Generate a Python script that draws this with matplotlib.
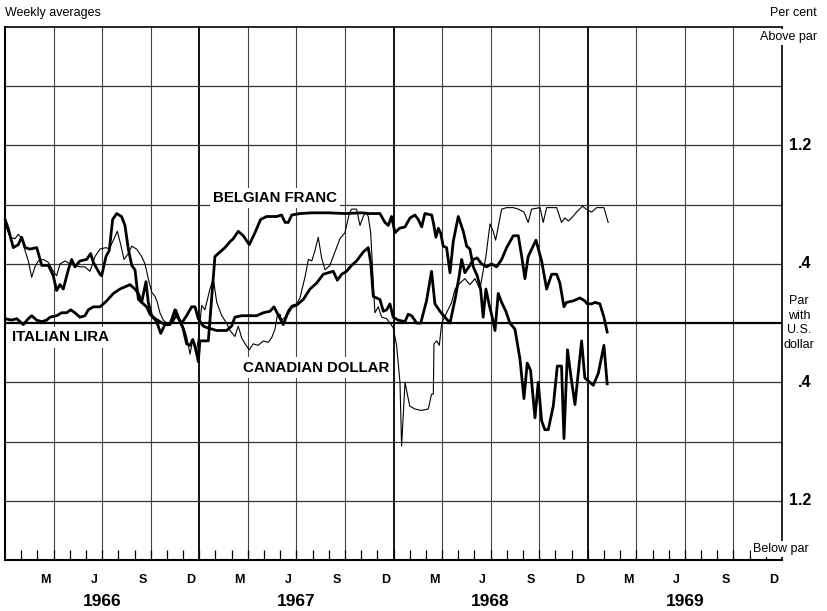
import numpy as np
import matplotlib.pyplot as plt

plt.rcParams['font.family'] = ['Liberation Sans', 'DejaVu Sans']

# x = months since 1 Jan 1966, y = per cent above (+) / below (-) par with U.S. dollar
bf_month = [0, 0.2, 0.51, 0.82, 1.03, 1.24, 1.54, 1.96, 2.27, 2.68, 2.98, 3.19, 3.4, 3.6, 3.91, 4.12,
            4.32, 4.63, 5.05, 5.29, 5.46, 5.87, 5.97, 6.24, 6.44, 6.65, 6.9, 7.2, 7.41, 7.62, 7.83,
            8.03, 8.24, 8.44, 8.71, 8.85, 9.06, 9.37, 9.62, 9.88, 10.19, 10.5, 10.81, 11.01, 11.22,
            11.43, 11.6, 11.8, 11.94, 12.04, 12.35, 12.56, 12.97, 13.28, 13.59, 13.9, 14.1, 14.41,
            14.72, 15.09, 15.44, 15.79, 16.16, 16.78, 17.09, 17.3, 17.5, 17.71, 18.22, 19.0, 20.0,
            21.0, 22.0, 22.5, 23.16, 23.47, 23.68, 23.88, 24.09, 24.36, 24.71, 25.02, 25.32, 25.53,
            25.74, 25.94, 26.36, 26.46, 26.62, 26.77, 26.91, 27.07, 27.28, 27.49, 27.69, 28.0, 28.31,
            28.52, 28.72, 28.93, 29.17, 29.38, 29.54, 29.71, 29.92, 30.12, 30.27, 30.47, 30.68, 30.94,
            31.19, 31.5, 31.81, 32.06, 32.26, 32.47, 32.74, 32.94, 33.15, 33.35, 33.56, 33.87, 34.12,
            34.38, 34.53, 34.75, 34.96, 35.21, 35.62, 35.82, 36.03, 36.34, 36.65, 37.0, 37.2]
bf_value = [0.70, 0.64, 0.51, 0.53, 0.58, 0.51, 0.50, 0.51, 0.39, 0.39, 0.32, 0.22, 0.26, 0.23, 0.36, 0.43,
            0.38, 0.42, 0.43, 0.47, 0.41, 0.33, 0.32, 0.45, 0.49, 0.70, 0.74, 0.72, 0.66, 0.50, 0.39,
            0.36, 0.16, 0.14, 0.28, 0.14, 0.05, 0.01, -0.07, -0.01, -0.01, 0.09, 0.01, -0.04, -0.14,
            -0.15, -0.11, -0.18, -0.26, -0.12, -0.12, -0.12, 0.45, 0.48, 0.51, 0.55, 0.57, 0.62,
            0.59, 0.53, 0.61, 0.70, 0.72, 0.72, 0.73, 0.68, 0.68, 0.73, 0.74, 0.745, 0.745,
            0.74, 0.745, 0.74, 0.74, 0.68, 0.66, 0.72, 0.61, 0.64, 0.65, 0.71, 0.73, 0.70,
            0.65, 0.74, 0.73, 0.68, 0.58, 0.64, 0.61, 0.52, 0.51, 0.34, 0.55, 0.72, 0.62,
            0.52, 0.50, 0.38, 0.32, 0.23, 0.04, 0.23, 0.12, 0.03, -0.05, 0.20, 0.14, 0.08,
            0.00, -0.04, -0.24, -0.51, -0.27, -0.32, -0.64, -0.40, -0.66, -0.72, -0.72, -0.56, -0.29,
            -0.29, -0.78, -0.18, -0.36, -0.55, -0.12, -0.37, -0.39, -0.42, -0.34, -0.15, -0.41]

il_month = [0, 0.41, 0.72, 1.13, 1.44, 1.65, 1.96, 2.27, 2.57, 2.78, 3.19, 3.5, 3.81, 4.06, 4.32, 4.63,
            4.94, 5.15, 5.46, 5.87, 6.28, 6.69, 7.1, 7.52, 7.72, 8.03, 8.24, 8.44, 8.75, 8.96, 9.27,
            9.57, 9.88, 10.19, 10.6, 10.91, 11.22, 11.53, 11.74, 11.94, 12.25, 12.46, 13.08, 13.69,
            14.0, 14.2, 14.62, 15.13, 15.55, 15.96, 16.37, 16.62, 16.9, 17.19, 17.44, 17.71, 18.0,
            18.43, 18.84, 19.25, 19.66, 19.97, 20.28, 20.53, 20.8, 21.1, 21.41, 21.72, 22.13, 22.34,
            22.44, 22.59, 22.75, 23.16, 23.37, 23.58, 23.78, 23.98, 24.29, 24.71, 24.91, 25.12,
            25.43, 25.68, 26.04, 26.35, 26.56, 26.87, 27.18, 27.49, 27.8, 28.06, 28.21, 28.41, 28.72,
            28.93, 29.17, 29.44, 29.75, 30.06, 30.37, 30.68, 30.99, 31.4, 31.71, 31.92, 32.12, 32.32,
            32.8, 33.15, 33.46, 33.77, 34.08, 34.28, 34.53, 34.69, 35.1, 35.52, 35.82, 35.97, 36.24,
            36.44, 36.75, 37.0, 37.2]
il_value = [0.03, 0.02, 0.03, -0.01, 0.03, 0.05, 0.02, 0.01, 0.02, 0.04, 0.05, 0.07, 0.07, 0.09, 0.07, 0.04,
            0.05, 0.09, 0.11, 0.11, 0.15, 0.20, 0.23, 0.25, 0.26, 0.23, 0.20, 0.14, 0.11, 0.06, 0.03,
            0.01, -0.01, 0.0, 0.05, 0.0, 0.05, 0.11, 0.11, 0.03, -0.02, -0.03, -0.05, -0.05,
            -0.02, 0.04, 0.05, 0.05, 0.05, 0.07, 0.08, 0.11, 0.05, -0.01, 0.06, 0.11, 0.12,
            0.16, 0.23, 0.27, 0.33, 0.34, 0.35, 0.29, 0.33, 0.35, 0.39, 0.42, 0.48, 0.50,
            0.51, 0.41, 0.18, 0.16, 0.08, 0.09, 0.13, 0.04, 0.02, 0.01, 0.06, 0.05,
            0.0, 0.0, 0.15, 0.35, 0.13, 0.08, 0.04, 0.0, 0.16, 0.32, 0.43, 0.34, 0.39,
            0.43, 0.44, 0.40, 0.38, 0.40, 0.38, 0.43, 0.51, 0.59, 0.59, 0.45, 0.30, 0.45,
            0.56, 0.42, 0.23, 0.33, 0.33, 0.27, 0.11, 0.14, 0.15, 0.17, 0.15, 0.13, 0.13,
            0.14, 0.13, 0.04, -0.06]

cd_month = [0, 0.31, 0.62, 0.82, 1.03, 1.24, 1.44, 1.65, 1.85, 2.06, 2.37, 2.68, 2.98, 3.19, 3.4, 3.71,
            4.01, 4.32, 4.63, 4.94, 5.25, 5.56, 5.87, 6.24, 6.44, 6.69, 6.94, 7.15, 7.35, 7.62, 7.83,
            8.13, 8.44, 8.65, 8.85, 9.06, 9.27, 9.41, 9.57, 9.78, 10.09, 10.4, 10.6, 10.81, 11.01,
            11.22, 11.43, 11.6, 11.8, 11.94, 12.15, 12.35, 12.66, 12.87, 13.08, 13.39, 13.69, 13.9,
            14.2, 14.41, 14.62, 14.83, 15.09, 15.33, 15.64, 15.96, 16.26, 16.47, 16.68, 16.82, 16.99,
            17.09, 17.3, 17.5, 17.71, 18.02, 18.22, 18.53, 18.74, 18.95, 19.15, 19.35, 19.56, 19.77,
            20.07, 20.38, 20.69, 21.0, 21.27, 21.41, 21.72, 21.93, 22.13, 22.3, 22.44, 22.59, 22.85,
            23.06, 23.27, 23.58, 23.78, 23.98, 24.19, 24.4, 24.5, 24.71, 25.0, 25.32, 25.74, 26.15,
            26.35, 26.46, 26.5, 26.67, 26.83, 26.98, 27.28, 27.59, 27.8, 28.1, 28.41, 28.72, 29.03,
            29.34, 29.5, 29.71, 29.96, 30.16, 30.31, 30.47, 30.68, 30.99, 31.4, 31.71, 32.06, 32.32,
            32.53, 33.05, 33.25, 33.46, 34.08, 34.38, 34.59, 34.8, 35.0, 35.31, 35.68, 35.9, 36.24,
            36.55, 37.0, 37.26]
cd_value = [0.67, 0.58, 0.57, 0.60, 0.57, 0.49, 0.42, 0.31, 0.38, 0.42, 0.43, 0.41, 0.35, 0.32, 0.40, 0.42,
            0.40, 0.39, 0.38, 0.38, 0.35, 0.45, 0.50, 0.51, 0.50, 0.56, 0.62, 0.53, 0.43, 0.47, 0.52,
            0.50, 0.45, 0.40, 0.30, 0.21, 0.18, 0.14, 0.07, 0.02, -0.01, 0.0, 0.09, 0.02, -0.02,
            -0.09, -0.21, -0.11, -0.21, -0.11, 0.12, 0.09, 0.23, 0.30, 0.14, 0.05, 0.0, -0.05,
            -0.09, -0.02, -0.10, -0.14, -0.18, -0.14, -0.15, -0.12, -0.13, -0.10, -0.04, 0.05, 0.06,
            0.02, 0.04, 0.09, 0.12, 0.13, 0.17, 0.31, 0.43, 0.42, 0.49, 0.58, 0.44, 0.36,
            0.39, 0.48, 0.57, 0.61, 0.74, 0.77, 0.77, 0.66, 0.72, 0.75, 0.72, 0.61, 0.07,
            0.11, 0.04, 0.03, 0.0, -0.03, -0.15, -0.40, -0.83, -0.40, -0.56, -0.58, -0.59, -0.58,
            -0.48, -0.48, -0.14, -0.12, -0.15, 0.0, 0.07, 0.14, 0.23, 0.27, 0.30, 0.26, 0.30,
            0.23, 0.33, 0.45, 0.67, 0.62, 0.56, 0.65, 0.77, 0.78, 0.78, 0.77, 0.75, 0.68,
            0.77, 0.78, 0.68, 0.78, 0.78, 0.68, 0.71, 0.69, 0.71, 0.75, 0.79, 0.77, 0.75,
            0.78, 0.78, 0.68]

years = ['1966', '1967', '1968', '1969']
month_labels = ['M', 'J', 'S', 'D']
right_values = [1.2, 0.4, -0.4, -1.2]
right_labels = ['1.2', '.4', '.4', '1.2']

fig = plt.figure(figsize=(8.27, 6.11), dpi=100)
ax = fig.add_axes([5 / 827, 1 - 560 / 611, 777 / 827, 533 / 611])
ax.set_xlim(0, 48)
ax.set_ylim(-1.6, 2.0)

# grid
for q in range(3, 48, 3):
    if q % 12 == 0:
        ax.axvline(q, color='#111111', lw=1.4, zorder=1)
    else:
        ax.axvline(q, color='#444444', lw=0.8, zorder=1)
for yv in np.arange(-1.2, 2.0, 0.4):
    if abs(yv) < 1e-9:
        ax.axhline(0, color='black', lw=1.6, zorder=1)
    else:
        ax.axhline(yv, color='#333333', lw=0.9, zorder=1)

ax.plot(cd_month, cd_value, color='black', lw=0.8, zorder=3)
ax.plot(il_month, il_value, color='black', lw=2.0, zorder=3)
ax.plot(bf_month, bf_value, color='black', lw=2.0, zorder=3)

for sp in ax.spines.values():
    sp.set_color('black')
ax.spines['left'].set_linewidth(1.5)
ax.spines['bottom'].set_linewidth(1.5)
ax.spines['top'].set_linewidth(1.2)
ax.spines['right'].set_linewidth(1.2)

# month ticks and labels
label_pos = [12 * k + p for k in range(4) for p in (2.5, 5.5, 8.5, 11.5)]
ax.set_xticks(label_pos)
ax.set_xticklabels(month_labels * 4, fontsize=9, fontweight='bold')
ax.set_xticks(range(1, 48), minor=True)
ax.tick_params(axis='x', which='major', length=0, pad=10)
ax.tick_params(axis='x', which='minor', direction='in', length=7, width=0.9, bottom=True)
ax.set_yticks([])

xt = ax.get_xaxis_transform()
for i, yr in enumerate(years):
    ax.text(12 * i + 6, -0.077, yr, transform=xt, ha='center', va='center',
            fontsize=12.5, fontweight='bold')

yt = ax.get_yaxis_transform()
for v, s in zip(right_values, right_labels):
    ax.text((811 - 5) / 777, v, s, transform=yt, ha='right', va='center',
            fontsize=11.5, fontweight='bold', clip_on=False)
ax.text((799 - 5) / 777, 0, 'Par\nwith\nU.S.\ndollar', transform=yt, ha='center',
        va='center', fontsize=9, linespacing=1.3, clip_on=False)

# series labels
box = dict(facecolor='white', edgecolor='none', pad=2.5)
ax.text(12.85, 0.845, 'BELGIAN FRANC', fontsize=10.8, fontweight='bold',
        ha='left', va='center', bbox=box, zorder=5)
ax.text(0.43, -0.095, 'ITALIAN LIRA', fontsize=10.8, fontweight='bold',
        ha='left', va='center', bbox=box, zorder=5)
ax.text(14.7, -0.30, 'CANADIAN DOLLAR', fontsize=10.8, fontweight='bold',
        ha='left', va='center', bbox=box, zorder=5)

# figure annotations
fig.text(5 / 827, 1 - 13 / 611, 'Weekly averages', fontsize=9, ha='left', va='center')
fig.text(817 / 827, 1 - 13 / 611, 'Per cent', fontsize=9, ha='right', va='center')
fig.text(817 / 827, 1 - 37 / 611, 'Above par', fontsize=9, ha='right', va='center',
         bbox=dict(facecolor='white', edgecolor='none', pad=1.5))
fig.text(809 / 827, 1 - 549 / 611, 'Below par', fontsize=9, ha='right', va='center',
         bbox=dict(facecolor='white', edgecolor='none', pad=1.5))

fig.savefig('out.png', dpi=100, facecolor='white')
